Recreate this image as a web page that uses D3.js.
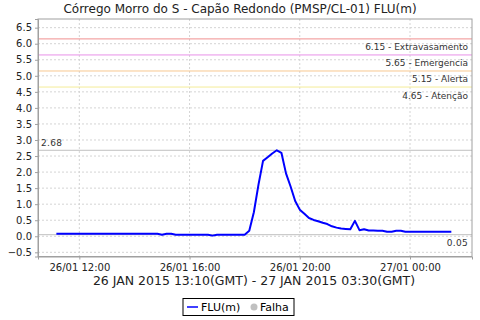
<!DOCTYPE html>
<html>
<head>
<meta charset="utf-8">
<script src="https://cdn.jsdelivr.net/npm/d3@7"></script>
<style>
body{margin:0;background:#fff;}
svg{display:block;font-family:"DejaVu Sans",sans-serif;}
</style>
</head>
<body>
<svg id="chart" width="480" height="320"></svg>
<script>
// leituras a cada 10 min, hora local, começando 26/01 11:10
const startTime = new Date(2015,0,26,11,10);
const stepMin = 10;
const values = [
  0.08,0.08,0.08,0.08,0.08,0.08,0.08,0.08,0.08,0.08,
  0.08,0.08,0.08,0.08,0.08,0.08,0.08,0.08,0.08,0.08,
  0.08,0.08,0.08,0.05,0.08,0.08,0.05,0.05,0.05,0.05,
  0.05,0.05,0.05,0.05,0.02,0.05,0.05,0.05,0.05,0.05,
  0.05,0.05,0.17,0.75,1.6,2.35,2.46,2.58,2.68,2.6,
  1.96,1.55,1.1,0.83,0.7,0.57,0.51,0.47,0.42,0.38,
  0.31,0.27,0.24,0.23,0.22,0.48,0.19,0.22,0.18,0.18,
  0.17,0.17,0.14,0.14,0.17,0.17,0.14,0.14,0.14,0.14,
  0.14,0.14,0.14,0.14,0.14,0.14,0.14
];
const levels = [
  {v:6.15, label:"6.15 - Extravasamento", color:"#f09090"},
  {v:5.65, label:"5.65 - Emergencia", color:"#e890e8"},
  {v:5.15, label:"5.15 - Alerta", color:"#f8c890"},
  {v:4.65, label:"4.65 - Atenção", color:"#f4ec98"}
];
const maxVal = 2.68, minVal = 0.05;
const yTicks = [-0.5,0,0.5,1,1.5,2,2.5,3,3.5,4,4.5,5,5.5,6,6.5];
const xTicks = [new Date(2015,0,26,12), new Date(2015,0,26,16), new Date(2015,0,26,20), new Date(2015,0,27,0)];
const title = "Córrego Morro do S - Capão Redondo (PMSP/CL-01) FLU(m)";
const subtitle = "26 JAN 2015 13:10(GMT) - 27 JAN 2015 03:30(GMT)";

const data = values.map((v,i)=>({t:new Date(startTime.getTime()+i*stepMin*60000), v:v}));

const svg = d3.select("#chart");
const m = {l:38, r:472, t:19, b:256.5};

const x = d3.scaleTime()
  .domain([new Date(2015,0,26,10,30), new Date(2015,0,27,2,15)])
  .range([m.l,m.r]);
const y = d3.scaleLinear().domain([-0.63,6.77]).range([m.b,m.t]);

svg.append("text").attr("x",240).attr("y",13).attr("text-anchor","middle")
  .attr("font-size",12).attr("fill","#222").text(title);

const g = svg.append("g");

// grade
g.selectAll(".hg").data(yTicks).enter().append("line")
  .attr("x1",m.l).attr("x2",m.r).attr("y1",d=>y(d)).attr("y2",d=>y(d))
  .attr("stroke","#d4d4d4").attr("stroke-dasharray","2,2");
g.selectAll(".vg").data(xTicks).enter().append("line")
  .attr("y1",m.t).attr("y2",m.b).attr("x1",d=>x(d)).attr("x2",d=>x(d))
  .attr("stroke","#d4d4d4").attr("stroke-dasharray","2,2");

// niveis
levels.forEach(l=>{
  g.append("line").attr("x1",m.l).attr("x2",m.r).attr("y1",y(l.v)).attr("y2",y(l.v))
    .attr("stroke",l.color).attr("stroke-width",1);
  g.append("text").attr("x",m.r-4).attr("y",y(l.v)+11.5).attr("text-anchor","end")
    .attr("font-size",9).attr("fill","#333").text(l.label);
});
g.append("line").attr("x1",m.l).attr("x2",m.r).attr("y1",y(maxVal)).attr("y2",y(maxVal))
  .attr("stroke","#c0c0c0");
g.append("text").attr("x",m.l+3).attr("y",y(maxVal)-4.5).attr("font-size",9)
  .attr("letter-spacing",0.3).attr("fill","#333").text(maxVal.toFixed(2));
g.append("line").attr("x1",m.l).attr("x2",m.r).attr("y1",y(minVal)).attr("y2",y(minVal))
  .attr("stroke","#c0c0c0");
g.append("text").attr("x",m.r-4).attr("y",y(minVal)+11.5).attr("text-anchor","end")
  .attr("font-size",9).attr("letter-spacing",0.3).attr("fill","#333").text(minVal.toFixed(2));

// serie
g.append("path").datum(data)
  .attr("fill","none").attr("stroke","#0000ff").attr("stroke-width",2)
  .attr("stroke-linejoin","round")
  .attr("d",d3.line().x(d=>x(d.t)).y(d=>y(d.v)));

// borda
svg.append("rect").attr("x",m.l).attr("y",m.t).attr("width",m.r-m.l).attr("height",m.b-m.t)
  .attr("fill","none").attr("stroke","#a0a0a0");

// eixos
const yAxis = svg.append("g").attr("transform",`translate(${m.l},0)`)
  .call(d3.axisLeft(y).tickValues(yTicks).tickFormat(d3.format(".1f")).tickSize(3).tickPadding(3));
const xAxis = svg.append("g").attr("transform",`translate(0,${m.b})`)
  .call(d3.axisBottom(x).tickValues(xTicks).tickFormat(d3.timeFormat("%d/%m %H:%M")).tickSize(3).tickPadding(4));
[yAxis,xAxis].forEach(a=>{
  a.select(".domain").attr("stroke","#a0a0a0");
  a.selectAll(".tick line").attr("stroke","#a0a0a0");
  a.selectAll("text").attr("font-family","DejaVu Sans").attr("font-size",10).attr("fill","#222");
});

svg.append("text").attr("x",254).attr("y",284.5).attr("text-anchor","middle")
  .attr("font-size",12.5).attr("fill","#222").text(subtitle);

// legenda
const lg = svg.append("g");
lg.append("rect").attr("x",183).attr("y",298.5).attr("width",111).attr("height",17)
  .attr("fill","#fff").attr("stroke","#000");
lg.append("line").attr("x1",187).attr("x2",198).attr("y1",307).attr("y2",307)
  .attr("stroke","#0000ff").attr("stroke-width",1.5);
lg.append("text").attr("x",201).attr("y",311).attr("font-size",11).attr("fill","#000").text("FLU(m)");
lg.append("circle").attr("cx",254).attr("cy",307).attr("r",3.5).attr("fill","#c0c0c0");
lg.append("text").attr("x",260).attr("y",311).attr("font-size",11).attr("fill","#000").text("Falha");
</script>
</body>
</html>
